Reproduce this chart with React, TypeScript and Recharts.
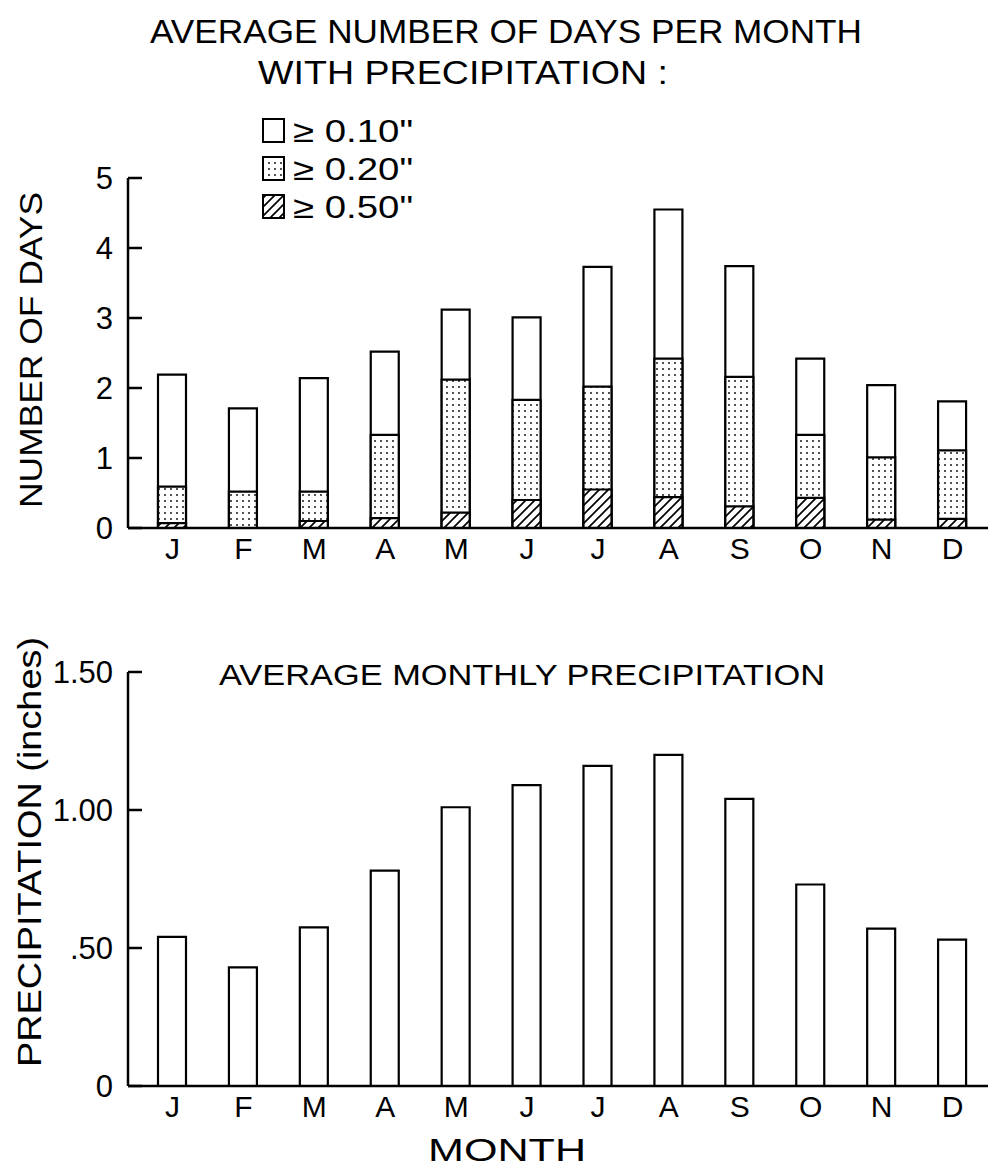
import { BarChart, Bar, XAxis, YAxis, Legend } from 'recharts';

const monthKeys = ['Jan', 'Feb', 'Mar', 'Apr', 'May', 'Jun', 'Jul', 'Aug', 'Sep', 'Oct', 'Nov', 'Dec'];
const monthLabels = ['J', 'F', 'M', 'A', 'M', 'J', 'J', 'A', 'S', 'O', 'N', 'D'];

// average number of days per month with precipitation
const daysOver010 = [2.19, 1.71, 2.14, 2.52, 3.12, 3.01, 3.73, 4.55, 3.74, 2.42, 2.04, 1.81];
const daysOver020 = [0.59, 0.52, 0.52, 1.33, 2.12, 1.83, 2.02, 2.42, 2.16, 1.33, 1.01, 1.11];
const daysOver050 = [0.07, 0, 0.1, 0.14, 0.22, 0.4, 0.55, 0.44, 0.31, 0.43, 0.12, 0.13];

// average monthly precipitation, inches
const precipInches = [0.54, 0.43, 0.575, 0.78, 1.01, 1.09, 1.16, 1.2, 1.04, 0.73, 0.57, 0.53];

const dayTicks = [0, 1, 2, 3, 4, 5];
const precipTicks = [0, 0.5, 1, 1.5];
const precipTickLabels = ['0', '.50', '1.00', '1.50'];

const legendLabels = ['\u2265 0.10"', '\u2265 0.20"', '\u2265 0.50"'];
const legendFills = ['#fff', 'url(#dots)', 'url(#hatch)'];

const daysData = monthKeys.map((m, i) => ({
  month: m,
  d10: daysOver010[i],
  d20: daysOver020[i],
  d50: daysOver050[i],
}));
const precipData = monthKeys.map((m, i) => ({ month: m, precip: precipInches[i] }));

const FONT = '"Liberation Sans", Arial, sans-serif';

function YTick(props: any) {
  const { x, y, payload, fmt } = props;
  return (
    <g>
      <line x1={x} x2={x + 14} y1={y} y2={y} stroke="#000" strokeWidth={2.5} />
      <text x={x - 15} y={y} dy="0.36em" textAnchor="end" fontSize={31} fontFamily={FONT} fill="#000">
        {fmt(payload.value)}
      </text>
    </g>
  );
}

function LegendBox() {
  return (
    <svg width={240} height={125} style={{ overflow: 'visible' }}>
      {legendLabels.map((lab, i) => (
        <g key={lab} transform={`translate(0, ${i * 38})`}>
          <rect x={3} y={3} width={21} height={23} fill={legendFills[i]} stroke="#000" strokeWidth={2} />
          <text x={33} y={26} fontSize={31} fontFamily={FONT} fill="#000" textLength={120} lengthAdjust="spacingAndGlyphs">
            {lab}
          </text>
        </g>
      ))}
    </svg>
  );
}

export default function App() {
  return (
    <div style={{ position: 'absolute', left: 0, top: 0, width: 993, height: 1170, background: '#fff', fontFamily: FONT }}>
      <svg width={0} height={0} style={{ position: 'absolute' }}>
        <defs>
          <pattern id="dots" width={6} height={6} patternUnits="userSpaceOnUse">
            <rect width={6} height={6} fill="#fff" />
            <circle cx={3} cy={3} r={0.9} fill="#000" />
          </pattern>
          <pattern id="hatch" width={9} height={9} patternUnits="userSpaceOnUse">
            <rect width={9} height={9} fill="#fff" />
            <path d="M-2,2 l4,-4 M0,9 l9,-9 M7,11 l4,-4" stroke="#000" strokeWidth={1.7} />
          </pattern>
        </defs>
      </svg>

      <div style={{ position: 'absolute', left: 0, top: 0 }}>
        <BarChart width={993} height={600} data={daysData} margin={{ top: 178, right: 5, left: 68, bottom: 32 }} barGap={-28}>
          <XAxis
            dataKey="month"
            height={40}
            padding={{ left: 9, right: 0 }}
            tickLine={false}
            tickSize={0}
            tickMargin={10}
            axisLine={{ stroke: '#000', strokeWidth: 2.5 }}
            tick={{ fontSize: 30, fill: '#000', fontFamily: FONT }}
            tickFormatter={(_v: string, i: number) => monthLabels[i]}
          />
          <YAxis
            width={60}
            domain={[0, 5]}
            ticks={dayTicks}
            tickLine={false}
            tickSize={0}
            tickMargin={0}
            axisLine={{ stroke: '#000', strokeWidth: 2.5 }}
            tick={<YTick fmt={(v: number) => String(v)} />}
          />
          <Legend
            layout="vertical"
            align="center"
            verticalAlign="middle"
            content={() => <LegendBox />}
            wrapperStyle={{ position: 'absolute', left: 260, top: 116, width: 240, height: 125 }}
          />
          <Bar dataKey="d10" barSize={28} fill="#fff" stroke="#000" strokeWidth={2.2} isAnimationActive={false} />
          <Bar dataKey="d20" barSize={28} fill="url(#dots)" stroke="#000" strokeWidth={2.2} isAnimationActive={false} />
          <Bar dataKey="d50" barSize={28} fill="url(#hatch)" stroke="#000" strokeWidth={2.2} isAnimationActive={false} />
        </BarChart>
      </div>

      <div style={{ position: 'absolute', left: 0, top: 600 }}>
        <BarChart width={993} height={570} data={precipData} margin={{ top: 72, right: 5, left: 68, bottom: 44 }}>
          <XAxis
            dataKey="month"
            height={40}
            padding={{ left: 9, right: 0 }}
            tickLine={false}
            tickSize={0}
            tickMargin={10}
            axisLine={{ stroke: '#000', strokeWidth: 2.5 }}
            tick={{ fontSize: 30, fill: '#000', fontFamily: FONT }}
            tickFormatter={(_v: string, i: number) => monthLabels[i]}
          />
          <YAxis
            width={60}
            domain={[0, 1.5]}
            ticks={precipTicks}
            tickLine={false}
            tickSize={0}
            tickMargin={0}
            axisLine={{ stroke: '#000', strokeWidth: 2.5 }}
            tick={<YTick fmt={(v: number) => precipTickLabels[precipTicks.indexOf(v)]} />}
          />
          <Bar dataKey="precip" barSize={28} fill="#fff" stroke="#000" strokeWidth={2.2} isAnimationActive={false} />
        </BarChart>
      </div>

      <svg width={993} height={1170} style={{ position: 'absolute', left: 0, top: 0, pointerEvents: 'none' }} fontFamily={FONT} fill="#000">
        <text x={150} y={43} fontSize={33} textLength={712} lengthAdjust="spacingAndGlyphs">
          AVERAGE  NUMBER  OF  DAYS  PER  MONTH
        </text>
        <text x={258} y={84} fontSize={33} textLength={410} lengthAdjust="spacingAndGlyphs">
          WITH  PRECIPITATION :
        </text>
        <text
          x={0}
          y={0}
          fontSize={32}
          textAnchor="middle"
          textLength={316}
          lengthAdjust="spacingAndGlyphs"
          transform="translate(42, 350) rotate(-90)"
        >
          NUMBER OF DAYS
        </text>
        <text x={219} y={685} fontSize={30} textLength={606} lengthAdjust="spacingAndGlyphs">
          AVERAGE  MONTHLY  PRECIPITATION
        </text>
        <text
          x={0}
          y={0}
          fontSize={33}
          textAnchor="middle"
          textLength={430}
          lengthAdjust="spacingAndGlyphs"
          transform="translate(41, 852) rotate(-90)"
        >
          PRECIPITATION (inches)
        </text>
        <text x={507} y={1161} fontSize={32} textAnchor="middle" textLength={158} lengthAdjust="spacingAndGlyphs">
          MONTH
        </text>
      </svg>
    </div>
  );
}
